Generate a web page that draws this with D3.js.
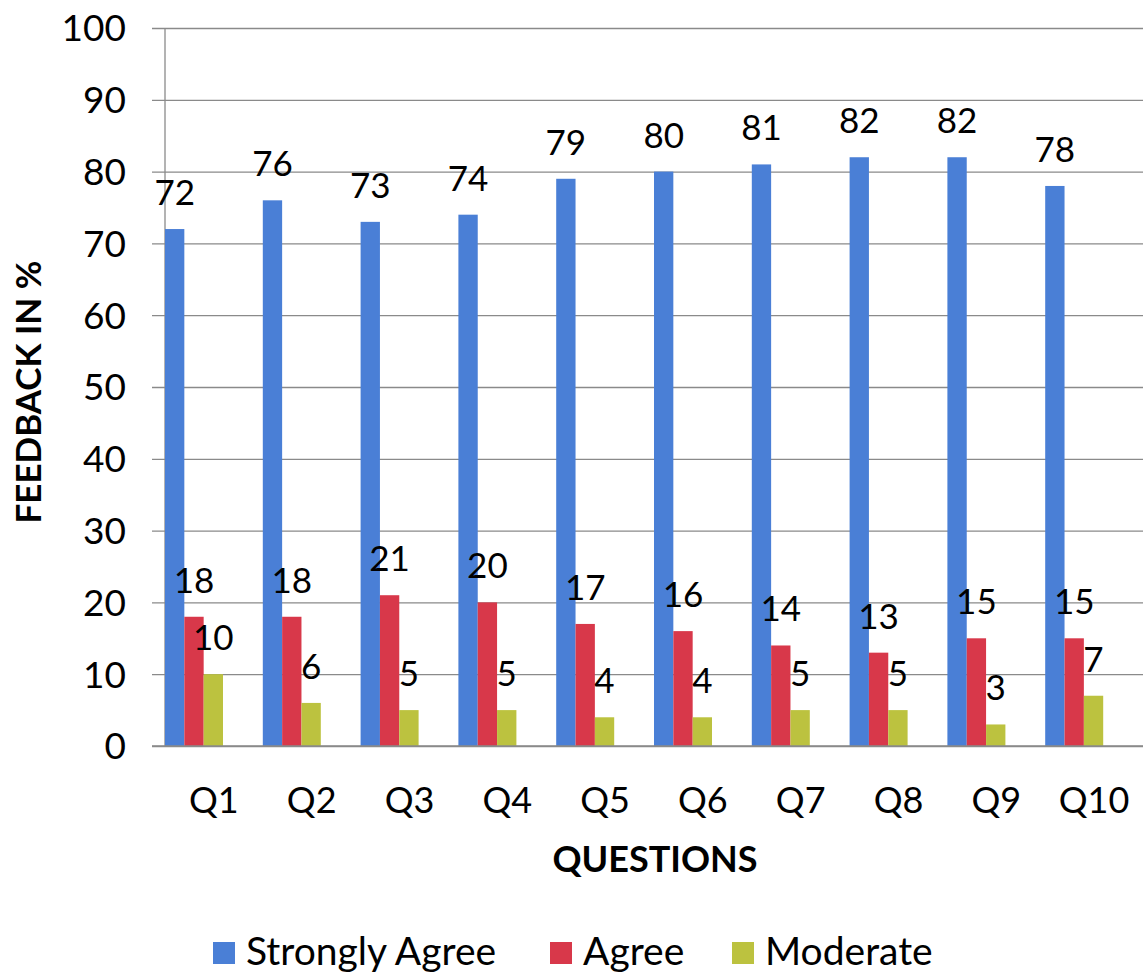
<!DOCTYPE html>
<html>
<head>
<meta charset="utf-8">
<script src="https://cdn.jsdelivr.net/npm/d3@7"></script>
<style>
  html, body { margin: 0; padding: 0; background: #fff; }
  svg { display: block; }
  text { font-family: Lato, "Open Sans", sans-serif; fill: #000; }
</style>
</head>
<body>
<svg id="chart" width="1147" height="977"></svg>
<script>
const categories = ["Q1","Q2","Q3","Q4","Q5","Q6","Q7","Q8","Q9","Q10"];
const seriesNames = ["Strongly Agree","Agree","Moderate"];
const stronglyAgree = [72,76,73,74,79,80,81,82,82,78];
const agree = [18,18,21,20,17,16,14,13,15,15];
const moderate = [10,6,5,5,4,4,5,5,3,7];
const yTicks = [0,10,20,30,40,50,60,70,80,90,100];
const colors = ["#4a7fd6","#d8384a","#bcc23f"];

const seriesValues = [stronglyAgree, agree, moderate];
const svg = d3.select("#chart");

const pLeft = 165, pRight = 1143, pTop = 28, pBottom = 746;
const y = d3.scaleLinear().domain([0,100]).range([pBottom, pTop]);
const x0 = d3.scaleBand().domain(categories).range([pLeft, pRight]).padding(0);
const x1 = d3.scaleBand().domain(seriesNames).range([0, 58]).padding(0);

// gridlines with outward ticks
const yAxis = d3.axisLeft(y).tickValues(yTicks).tickSize(-(pRight - pLeft)).tickFormat("");
const gy = svg.append("g").attr("transform", `translate(${pLeft},0)`).call(yAxis);
gy.select(".domain").remove();
gy.selectAll(".tick line").attr("stroke", "#8a8a8a").attr("stroke-width", 1.3).attr("x1", -13);

// y tick labels
svg.append("g").selectAll("text").data(yTicks).join("text")
  .attr("x", 126).attr("y", d => y(d)).attr("dy", "0.36em")
  .attr("text-anchor", "end").attr("font-size", 37).text(d => d);

// y axis vertical line
svg.append("line").attr("x1", pLeft).attr("x2", pLeft).attr("y1", pTop).attr("y2", pBottom)
  .attr("stroke", "#8a8a8a").attr("stroke-width", 1.3);

// bars
const groups = svg.append("g").selectAll("g").data(categories).join("g")
  .attr("transform", d => `translate(${x0(d)},0)`);
seriesNames.forEach((s, si) => {
  groups.append("rect")
    .attr("x", x1(s)).attr("width", x1.bandwidth())
    .attr("y", (d, i) => y(seriesValues[si][i]))
    .attr("height", (d, i) => pBottom - y(seriesValues[si][i]))
    .attr("fill", colors[si]);
});
// x axis line on top of bars
svg.append("line").attr("x1", pLeft - 13).attr("x2", pRight).attr("y1", pBottom).attr("y2", pBottom)
  .attr("stroke", "#8a8a8a").attr("stroke-width", 1.3);

// data labels
seriesNames.forEach((s, si) => {
  groups.append("text")
    .attr("x", x1(s) + x1.bandwidth() / 2)
    .attr("y", (d, i) => y(seriesValues[si][i]) - 24)
    .attr("text-anchor", "middle").attr("font-size", 35)
    .text((d, i) => seriesValues[si][i]);
});

// x category labels
svg.append("g").selectAll("text").data(categories).join("text")
  .attr("x", d => x0(d) + x0.bandwidth() / 2).attr("y", 813)
  .attr("text-anchor", "middle").attr("font-size", 36).text(d => d);

// axis titles
svg.append("text").attr("x", 655).attr("y", 872).attr("text-anchor", "middle")
  .attr("font-size", 36).attr("font-weight", "bold").text("QUESTIONS");
svg.append("text").attr("transform", "translate(41,392) rotate(-90)").attr("text-anchor", "middle")
  .attr("font-size", 35).attr("font-weight", "bold").text("FEEDBACK IN %");

// legend
const legendX = [213, 550, 732];
const legend = svg.append("g").selectAll("g").data(seriesNames).join("g")
  .attr("transform", (d, i) => `translate(${legendX[i]},942)`);
legend.append("rect").attr("width", 22).attr("height", 22).attr("fill", (d, i) => colors[i]);
legend.append("text").attr("x", 33).attr("y", 23).attr("font-size", 39).text(d => d);
</script>
</body>
</html>
